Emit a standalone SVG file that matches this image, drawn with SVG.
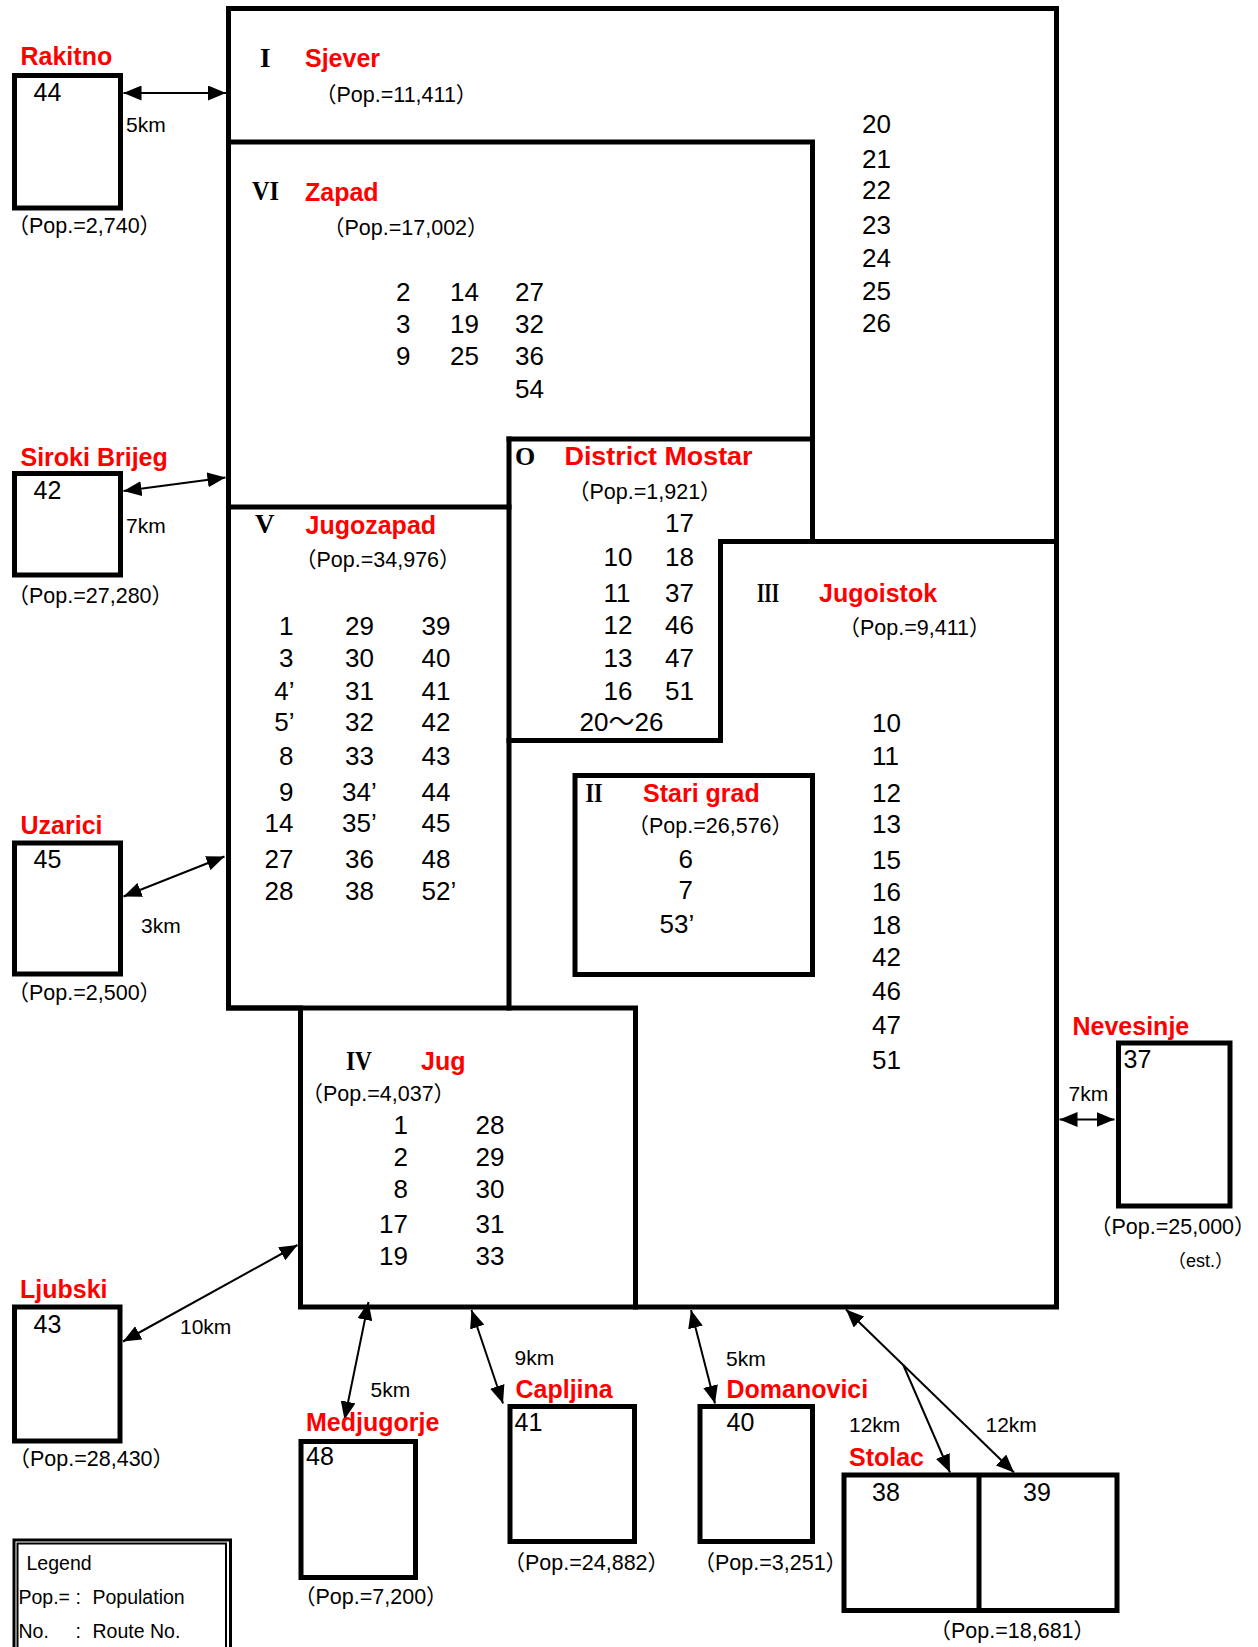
<svg xmlns="http://www.w3.org/2000/svg" width="1258" height="1647" viewBox="0 0 1258 1647">
<defs>
<style>
.ln{fill:none;stroke:#000;stroke-width:5;stroke-linejoin:miter;stroke-linecap:square}
.bx{fill:none;stroke:#000;stroke-width:5}
.red{font-family:'Liberation Sans',Arial,sans-serif;font-weight:bold;font-size:25px;fill:#ff0000}
.rn{font-family:'Liberation Serif','Times New Roman',serif;font-weight:bold;font-size:27px;fill:#000}
.pop{font-family:'Liberation Sans','Noto Sans CJK JP',sans-serif;font-size:21.5px;fill:#000}
.num{font-family:'Liberation Sans','Noto Sans CJK JP',sans-serif;font-size:26px;fill:#000}
.bn{font-family:'Liberation Sans',sans-serif;font-size:25px;fill:#000}
.km{font-family:'Liberation Sans',sans-serif;font-size:21px;fill:#000}
.leg{font-family:'Liberation Sans',sans-serif;font-size:19.5px;fill:#000}
.con{fill:none;stroke:#000;stroke-width:2}
.e{text-anchor:end}
</style>
<marker id="ah" markerUnits="userSpaceOnUse" markerWidth="18" markerHeight="15" refX="18" refY="7.5" orient="auto-start-reverse" viewBox="0 0 18 15">
<path d="M0,0 L18,7.5 L0,15 z" fill="#000"/>
</marker>
</defs>
<rect width="1258" height="1647" fill="#fff"/>

<!-- district frame -->
<g id="frame">
<path class="ln" d="M228.5,8.5 H1056.5 V1307 H300.5 V1008 H228.5 Z"/>
<path class="ln" d="M228.5,142 H812.5 V541.5"/>
<path class="ln" d="M720.5,541.5 H1056.5"/>
<path class="ln" d="M509,439 H812.5"/>
<path class="ln" d="M509,439 V1008"/>
<path class="ln" d="M228.5,507 H509"/>
<path class="ln" d="M509,740.5 H720.5 V541.5"/>
<path class="ln" d="M228.5,1008 H635.5 V1307"/>
</g>

<g id="district-I-sjever">
<text class="rn" x="260" y="67">I</text>
<text class="red" x="305" y="67">Sjever</text>
<text class="pop" x="315" y="102">（Pop.=11,411）</text>
<text class="num" x="862" y="133">20</text>
<text class="num" x="862" y="168">21</text>
<text class="num" x="862" y="199">22</text>
<text class="num" x="862" y="234">23</text>
<text class="num" x="862" y="267">24</text>
<text class="num" x="862" y="300">25</text>
<text class="num" x="862" y="332">26</text>
</g>

<g id="district-VI-zapad">
<text class="rn" x="252" y="200" textLength="27" lengthAdjust="spacingAndGlyphs">VI</text>
<text class="red" x="305" y="200.5">Zapad</text>
<text class="pop" x="323" y="235">（Pop.=17,002）</text>
<text class="num" x="396" y="301">2</text>
<text class="num" x="450" y="301">14</text>
<text class="num" x="515" y="301">27</text>
<text class="num" x="396" y="333">3</text>
<text class="num" x="450" y="333">19</text>
<text class="num" x="515" y="333">32</text>
<text class="num" x="396" y="365">9</text>
<text class="num" x="450" y="365">25</text>
<text class="num" x="515" y="365">36</text>
<text class="num" x="515" y="398">54</text>
</g>

<g id="district-O-mostar">
<text class="rn" x="515" y="464.5" style="font-size:26px">O</text>
<text class="red" x="564.5" y="464.5" textLength="188" lengthAdjust="spacingAndGlyphs">District Mostar</text>
<text class="pop" x="568" y="498.5">（Pop.=1,921）</text>
<text class="num" x="665" y="531.5">17</text>
<text class="num" x="603.5" y="566">10</text>
<text class="num" x="665" y="566">18</text>
<text class="num" x="603.5" y="601.5">11</text>
<text class="num" x="665" y="601.5">37</text>
<text class="num" x="603.5" y="633.5">12</text>
<text class="num" x="665" y="633.5">46</text>
<text class="num" x="603.5" y="666.5">13</text>
<text class="num" x="665" y="666.5">47</text>
<text class="num" x="603.5" y="699.5">16</text>
<text class="num" x="665" y="699.5">51</text>
<text class="num" x="579.5" y="731">20～26</text>
</g>

<g id="district-V-jugozapad">
<text class="rn" x="255" y="533">V</text>
<text class="red" x="305.5" y="533.5">Jugozapad</text>
<text class="pop" x="295" y="566.5">（Pop.=34,976）</text>
<text class="num e" x="293.5" y="634.5">1</text>
<text class="num" x="345" y="634.5">29</text>
<text class="num" x="421.5" y="634.5">39</text>
<text class="num e" x="293.5" y="667">3</text>
<text class="num" x="345" y="667">30</text>
<text class="num" x="421.5" y="667">40</text>
<text class="num e" x="294.5" y="699.5">4’</text>
<text class="num" x="345" y="699.5">31</text>
<text class="num" x="421.5" y="699.5">41</text>
<text class="num e" x="294.5" y="731">5’</text>
<text class="num" x="345" y="731">32</text>
<text class="num" x="421.5" y="731">42</text>
<text class="num e" x="293.5" y="764.5">8</text>
<text class="num" x="345" y="764.5">33</text>
<text class="num" x="421.5" y="764.5">43</text>
<text class="num e" x="293.5" y="801">9</text>
<text class="num" x="342" y="801">34’</text>
<text class="num" x="421.5" y="801">44</text>
<text class="num e" x="293.5" y="831.5">14</text>
<text class="num" x="342" y="831.5">35’</text>
<text class="num" x="421.5" y="831.5">45</text>
<text class="num e" x="293.5" y="868">27</text>
<text class="num" x="345" y="868">36</text>
<text class="num" x="421.5" y="868">48</text>
<text class="num e" x="293.5" y="899.5">28</text>
<text class="num" x="345" y="899.5">38</text>
<text class="num" x="421.5" y="899.5">52’</text>
</g>

<g id="district-III-jugoistok">
<text class="rn" x="757" y="602" textLength="22" lengthAdjust="spacingAndGlyphs">III</text>
<text class="red" x="819" y="602">Jugoistok</text>
<text class="pop" x="838.5" y="634.5">（Pop.=9,411）</text>
<text class="num" x="872" y="731.5">10</text>
<text class="num" x="872" y="765">11</text>
<text class="num" x="872" y="802">12</text>
<text class="num" x="872" y="832.5">13</text>
<text class="num" x="872" y="868.5">15</text>
<text class="num" x="872" y="901">16</text>
<text class="num" x="872" y="934">18</text>
<text class="num" x="872" y="966">42</text>
<text class="num" x="872" y="999.5">46</text>
<text class="num" x="872" y="1033.5">47</text>
<text class="num" x="872" y="1068.5">51</text>
</g>

<g id="district-II-stari-grad">
<rect class="bx" x="575" y="775.5" width="237.5" height="199"/>
<text class="rn" x="585.5" y="801.5" textLength="17" lengthAdjust="spacingAndGlyphs">II</text>
<text class="red" x="643" y="801.5">Stari grad</text>
<text class="pop" x="627.5" y="832.5">（Pop.=26,576）</text>
<text class="num e" x="693" y="867.5">6</text>
<text class="num e" x="693" y="898.5">7</text>
<text class="num" x="659.5" y="932.5">53’</text>
</g>

<g id="district-IV-jug">
<text class="rn" x="346" y="1070" textLength="26" lengthAdjust="spacingAndGlyphs">IV</text>
<text class="red" x="421" y="1070">Jug</text>
<text class="pop" x="301.5" y="1101">（Pop.=4,037）</text>
<text class="num e" x="408" y="1134">1</text>
<text class="num" x="475.5" y="1134">28</text>
<text class="num e" x="408" y="1165.5">2</text>
<text class="num" x="475.5" y="1165.5">29</text>
<text class="num e" x="408" y="1197.5">8</text>
<text class="num" x="475.5" y="1197.5">30</text>
<text class="num e" x="408" y="1232.5">17</text>
<text class="num" x="475.5" y="1232.5">31</text>
<text class="num e" x="408" y="1265">19</text>
<text class="num" x="475.5" y="1265">33</text>
</g>

<!-- outer towns -->
<g id="town-rakitno">
<text class="red" x="20.5" y="65">Rakitno</text>
<rect class="bx" x="14.5" y="75.5" width="106" height="132.5"/>
<text class="bn" x="33.5" y="101">44</text>
<text class="pop" x="7.5" y="233">（Pop.=2,740）</text>
</g>

<g id="town-siroki-brijeg">
<text class="red" x="20.5" y="466">Siroki Brijeg</text>
<rect class="bx" x="14.5" y="473.5" width="106" height="101.5"/>
<text class="bn" x="33.5" y="498.5">42</text>
<text class="pop" x="7.5" y="603">（Pop.=27,280）</text>
</g>

<g id="town-uzarici">
<text class="red" x="20.5" y="833.5">Uzarici</text>
<rect class="bx" x="14.5" y="843" width="106" height="131"/>
<text class="bn" x="33.5" y="868">45</text>
<text class="pop" x="7.5" y="1000">（Pop.=2,500）</text>
</g>

<g id="town-ljubski">
<text class="red" x="20" y="1297.5">Ljubski</text>
<rect class="bx" x="14.5" y="1307" width="105.5" height="134"/>
<text class="bn" x="33.5" y="1333">43</text>
<text class="pop" x="8.5" y="1466">（Pop.=28,430）</text>
</g>

<g id="town-medjugorje">
<rect class="bx" x="301" y="1441.5" width="114.5" height="136"/>
<text class="bn" x="306" y="1465">48</text>
<text class="pop" x="294" y="1603.5">（Pop.=7,200）</text>
</g>

<g id="town-capljina">
<text class="red" x="515.5" y="1397.5">Capljina</text>
<rect class="bx" x="510" y="1406.5" width="124.5" height="135"/>
<text class="bn" x="514.5" y="1431">41</text>
<text class="pop" x="503.5" y="1569.5">（Pop.=24,882）</text>
</g>

<g id="town-domanovici">
<text class="red" x="726.5" y="1397.5">Domanovici</text>
<rect class="bx" x="700" y="1406.5" width="112.5" height="135"/>
<text class="bn" x="726.5" y="1431">40</text>
<text class="pop" x="693.5" y="1569.5">（Pop.=3,251）</text>
</g>

<g id="town-stolac">
<text class="red" x="849" y="1465.5">Stolac</text>
<rect class="bx" x="844" y="1475" width="273" height="135.5"/>
<line class="bx" x1="979" y1="1475" x2="979" y2="1610.5"/>
<text class="bn" x="872" y="1501">38</text>
<text class="bn" x="1023" y="1501">39</text>
<text class="pop" x="929.5" y="1637.5">（Pop.=18,681）</text>
</g>

<g id="town-nevesinje">
<text class="red" x="1072.5" y="1034.5">Nevesinje</text>
<rect class="bx" x="1118.5" y="1043" width="111.5" height="163"/>
<text class="bn" x="1123.5" y="1068">37</text>
<text class="pop" x="1090" y="1234">（Pop.=25,000）</text>
<text class="pop" x="1168" y="1266.5" style="font-size:18px">（est.）</text>
</g>

<!-- connectors -->
<g id="connectors">
<line class="con" x1="123.5" y1="93" x2="226" y2="93" marker-start="url(#ah)" marker-end="url(#ah)"/>
<line class="con" x1="123.5" y1="491" x2="225.5" y2="477.5" marker-start="url(#ah)" marker-end="url(#ah)"/>
<line class="con" x1="123.5" y1="896.5" x2="224.5" y2="856.5" marker-start="url(#ah)" marker-end="url(#ah)"/>
<line class="con" x1="123" y1="1341.5" x2="297.5" y2="1245" marker-start="url(#ah)" marker-end="url(#ah)"/>
<line class="con" x1="344.5" y1="1419.5" x2="368.5" y2="1302" marker-start="url(#ah)" marker-end="url(#ah)"/>
<line class="con" x1="503" y1="1403.5" x2="471.5" y2="1310" marker-start="url(#ah)" marker-end="url(#ah)"/>
<line class="con" x1="715" y1="1403.5" x2="691" y2="1310" marker-start="url(#ah)" marker-end="url(#ah)"/>
<line class="con" x1="1014" y1="1472.5" x2="846" y2="1309.5" marker-start="url(#ah)" marker-end="url(#ah)"/>
<line class="con" x1="903.3" y1="1365" x2="950" y2="1472.5" marker-end="url(#ah)"/>
<line class="con" x1="1114.5" y1="1119.5" x2="1059.5" y2="1119.5" marker-start="url(#ah)" marker-end="url(#ah)"/>
<text class="km" x="126" y="132">5km</text>
<text class="km" x="126" y="533">7km</text>
<text class="km" x="141" y="933">3km</text>
<text class="km" x="180" y="1333.5">10km</text>
<text class="km" x="370.5" y="1397">5km</text>
<text class="km" x="514.5" y="1365">9km</text>
<text class="km" x="726" y="1366">5km</text>
<text class="km" x="849" y="1432">12km</text>
<text class="km" x="985.5" y="1432">12km</text>
<text class="km" x="1068.5" y="1101">7km</text>
</g>

<!-- label overlapping connector -->
<g id="town-medjugorje-label">
<text class="red" x="306" y="1431">Medjugorje</text>
</g>

<g id="legend">
<rect x="14" y="1540" width="216.5" height="120" fill="none" stroke="#000" stroke-width="3"/>
<rect x="17.5" y="1543.5" width="208.5" height="120" fill="none" stroke="#000" stroke-width="2"/>
<text class="leg" x="26.5" y="1569.5">Legend</text>
<text class="leg" x="18.5" y="1603.5">Pop.= :</text>
<text class="leg" x="92.5" y="1603.5">Population</text>
<text class="leg" x="18.5" y="1638">No.</text>
<text class="leg" x="75.5" y="1638">:</text>
<text class="leg" x="92.5" y="1638">Route No.</text>
</g>
</svg>
